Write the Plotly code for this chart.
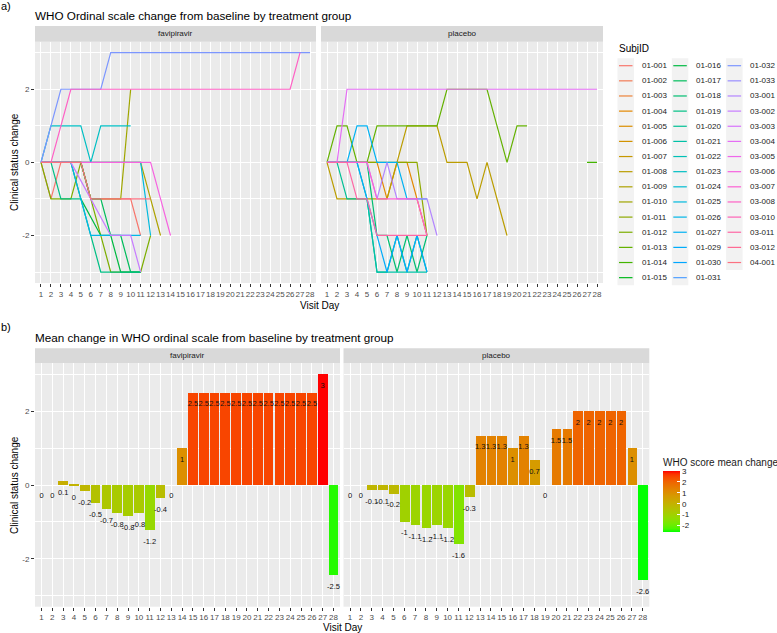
import math
import plotly.graph_objects as go

W, H = 777, 633
days = list(range(1, 29))
day_labels = [str(d) for d in days]

subject_ids = ["01-001", "01-002", "01-003", "01-004", "01-005", "01-006", "01-007", "01-008",
               "01-009", "01-010", "01-011", "01-012", "01-013", "01-014", "01-015", "01-016",
               "01-017", "01-018", "01-019", "01-020", "01-021", "01-022", "01-023", "01-024",
               "01-025", "01-026", "01-027", "01-029", "01-030", "01-031", "01-032", "01-033",
               "03-001", "03-002", "03-003", "03-004", "03-005", "03-006", "03-007", "03-008",
               "03-010", "03-011", "03-012", "04-001"]

# change from baseline per visit day (day 1, 2, 3, ...); None = no visit
fav_traj = {
    "01-032": [0, 1, 2, 2, 2, 2, 2, 3, 3, 3, 3, 3, 3, 3, 3, 3, 3, 3, 3, 3, 3, 3, 3, 3, 3, 3, 3, 3],
    "03-008": [0, 0, 1, 2, 2, 2, 2, 2, 2, 2, 2, 2, 2, 2, 2, 2, 2, 2, 2, 2, 2, 2, 2, 2, 2, 2, 3],
    "01-023": [0, 1, 1, 1, 1, 0, 1, 1, 1, 1],
    "03-006": [0, 0, 0, 0, 0, 0, 0, 0, 0, 0, 0, 0, -1, -2],
    "01-012": [0, -1, -1, -1, 0, -1, -2, -3, -3, -3, -3, -2],
    "01-019": [0, 0, -1, -1, -1, -2, -3, -3, -3, -3, -3],
    "01-001": [0, -1, 0, 0, 0, -1, -1, -1, -1, -1, -2],
    "03-002": [0, 0, 0, 0, None, -1, None, -2, -2, -2, -3],
    "01-026": [0, 0, 0, 0, -1, -2, -2, -2, -2, -2, -2],
    "01-025": [0, 0, 0, 0, 0, 0, 0, 0, 0, 0, 0, -2],
    "01-016": [0, 0, 0, 0, -1, None, -2, -2, -3, -3, -3],
    "01-017": [0, 0, 0, 0, 0, -1, -1, -2, -2, -3, -3],
    "01-010": [0, 0, 0, 0, 0, -1, -1, -1, -1, 2],
    "01-009": [0, 0, 0, 0, 0, 0, 0, 0, 0, 0, 0, -1, -2],
    "04-001": [0, 0, 0, 0, 0, -1, -1, -1, -1, -1, -1, -1],
}
pla_traj = {
    "03-004": [0, 0, 2, 2, 2, 2, 2, 2, 2, 2, 2, 2, 2, 2, 2, 2, 2, 2, 2, 2, 2, 2, 2, 2, 2, 2, 2, 2],
    "01-008": [0, -1, -1, -1, -1, -1, -1, 0, 1, 1, 1, 1, 0, 0, 0, -1, 0, None, -2],
    "01-013": [0, 1, 1, 0, 0, 1, 1, 1, 1, 1, 1, 1, 2, 2, 2, 2, 2, 1, 0, 1, 1],
    "01-014": [None] * 26 + [0, 0],
    "01-021": [0, 0, 0, 0, -1, -3, -3, -3, -3, -3, -3],
    "01-020": [0, 0, -1, -1, -1, -3, -3, -2, -3, -2, -3],
    "03-011": [0, 0, 0, -1, -1, -2, -2, -2, -2, -2, -2],
    "01-027": [0, 0, 0, 1, 1, 0, 0, 0, -1, -1, -1],
    "01-029": [0, 0, 0, 0, -1, -2, -3, -2, -3, -2, -3],
    "01-018": [0, 0, 0, 0, 0, -2, -2, -3, -2, -3, -2],
    "03-001": [0, 0, 0, 0, 0, -1, 0, -1, -1, -1, -1, -2],
    "01-004": [0, 0, 0, 0, 0, 0, -1, 0, 0, -1, -2],
    "01-011": [0, 0, 0, 0, 0, 0, 0, 0, 0, 0, -2],
    "03-007": [0, 0, 0, 0, 0, -1, -1, -1, -1, -1, -2],
}

# mean change per visit day (days 1..28)
fav_mean = [0, 0, 0.1, -0.04, -0.17, -0.49, -0.67, -0.76, -0.85, -0.76, -1.23, -0.36, 0, 1.0,
            2.5, 2.5, 2.5, 2.5, 2.5, 2.5, 2.5, 2.5, 2.5, 2.5, 2.5, 2.5, 3.0, -2.45]
pla_mean = [0, 0, -0.14, -0.14, -0.24, -1.0, -1.1, -1.17, -1.1, -1.17, -1.62, -0.33, 1.33, 1.33,
            1.33, 1.0, 1.33, 0.67, 0, 1.5, 1.5, 2.0, 2.0, 2.0, 2.0, 2.0, 1.0, -2.59]
cbar_ticks = [-2, -1, 0, 1, 2, 3]

FONT = "Liberation Sans"


def px(x):
    return x / W


def py(y):
    return 1 - y / H


def hcl_hex(h, c=100.0, l=65.0):
    hr = math.radians(h)
    u, v = c * math.cos(hr), c * math.sin(hr)
    Xn, Yn, Zn = 95.047, 100.0, 108.883
    Y = Yn * ((l + 16) / 116) ** 3 if l > 8 else Yn * l / 903.3
    den = Xn + 15 * Yn + 3 * Zn
    un, vn = 4 * Xn / den, 9 * Yn / den
    up, vp = u / (13 * l) + un, v / (13 * l) + vn
    X = 9.0 * Y * up / (4 * vp)
    Z = -X / 3 - 5 * Y + 3 * Y / vp
    X, Y, Z = X / 100, Y / 100, Z / 100
    rl = 3.240479 * X - 1.537150 * Y - 0.498535 * Z
    gl = -0.969256 * X + 1.875992 * Y + 0.041556 * Z
    bl = 0.055648 * X - 0.204043 * Y + 1.057311 * Z

    def g(t):
        t = 12.92 * t if t <= 0.0031308 else 1.055 * t ** (1 / 2.4) - 0.055
        return max(0, min(255, round(t * 255)))
    return "#%02X%02X%02X" % (g(rl), g(gl), g(bl))


n_sub = len(subject_ids)
sub_color = {sid: hcl_hex(15 + i * 360 / n_sub) for i, sid in enumerate(subject_ids)}


# Lab ramp green -> red (like ggplot scale_fill_gradient)
def srgb_to_lab(rgb):
    def lin(c):
        c = c / 255
        return c / 12.92 if c <= 0.04045 else ((c + 0.055) / 1.055) ** 2.4
    r, g, b = [lin(c) for c in rgb]
    X = 0.4124 * r + 0.3576 * g + 0.1805 * b
    Y = 0.2126 * r + 0.7152 * g + 0.0722 * b
    Z = 0.0193 * r + 0.1192 * g + 0.9505 * b
    xn, yn, zn = 0.95047, 1.0, 1.08883

    def f(t):
        return t ** (1 / 3) if t > 216 / 24389 else (24389 / 27 * t + 16) / 116
    fx, fy, fz = f(X / xn), f(Y / yn), f(Z / zn)
    return 116 * fy - 16, 500 * (fx - fy), 200 * (fy - fz)


def lab_to_hex(L, a, b):
    fy = (L + 16) / 116
    fx = fy + a / 500
    fz = fy - b / 200

    def finv(t):
        return t ** 3 if t ** 3 > 216 / 24389 else (116 * t - 16) / (24389 / 27)
    X, Y, Z = 0.95047 * finv(fx), finv(fy), 1.08883 * finv(fz)
    rl = 3.2406 * X - 1.5372 * Y - 0.4986 * Z
    gl = -0.9689 * X + 1.8758 * Y + 0.0415 * Z
    bl = 0.0557 * X - 0.2040 * Y + 1.0570 * Z

    def g(t):
        t = max(0.0, t)
        t = 12.92 * t if t <= 0.0031308 else 1.055 * t ** (1 / 2.4) - 0.055
        return max(0, min(255, round(t * 255)))
    return "#%02X%02X%02X" % (g(rl), g(gl), g(bl))


lab_lo = srgb_to_lab((0, 255, 0))
lab_hi = srgb_to_lab((255, 0, 0))
nstop = 20
colorscale = []
for k in range(nstop + 1):
    t = k / nstop
    colorscale.append([t, lab_to_hex(*[lo + (hi - lo) * t for lo, hi in zip(lab_lo, lab_hi)])])
cmin = min(fav_mean + pla_mean)
cmax = max(fav_mean + pla_mean)

fig = go.Figure()

# ---------- panel a: lines ----------
for axn, traj in (("", fav_traj), ("2", pla_traj)):
    for sid in subject_ids:
        if sid not in traj:
            continue
        vals = traj[sid]
        fig.add_trace(go.Scatter(
            x=days[:len(vals)], y=vals, mode="lines", connectgaps=True,
            line=dict(color=sub_color[sid], width=1.2),
            xaxis="x" + axn, yaxis="y" + axn, showlegend=False, name=sid,
            hoverinfo="skip"))


def fmt(v):
    r = round(v, 1)
    return "0" if r == 0 else f"{r:g}"


# ---------- panel b: bars ----------
for axn, vals in (("3", fav_mean), ("4", pla_mean)):
    fig.add_trace(go.Bar(
        x=days, y=vals, width=0.9,
        marker=dict(color=vals, coloraxis="coloraxis", line=dict(width=0)),
        xaxis="x" + axn, yaxis="y" + axn, showlegend=False, hoverinfo="skip"))
    fig.add_trace(go.Scatter(
        x=days, y=vals, mode="markers+text", text=[fmt(v) for v in vals],
        textposition="bottom center", textfont=dict(size=7.5, color="#111111", family=FONT),
        marker=dict(size=11, color="rgba(0,0,0,0)"),
        cliponaxis=False, xaxis="x" + axn, yaxis="y" + axn, showlegend=False, hoverinfo="skip"))

GRID = "#FFFFFF"
TICKC = "#4D4D4D"


def xax(x0, x1, anchor):
    return dict(domain=[px(x0), px(x1)], range=[0.4, 28.6], anchor=anchor,
                tickvals=days, ticktext=day_labels, tickangle=0,
                tickfont=dict(size=8, color=TICKC, family=FONT),
                ticks="outside", ticklen=3, tickwidth=0.8, tickcolor="#333333",
                showgrid=True, gridcolor=GRID, gridwidth=1, zeroline=False, showline=False,
                automargin=False, fixedrange=True)


def yax(y0, y1, anchor, labels=True):
    return dict(domain=[py(y1), py(y0)], range=[-3.3, 3.3], anchor=anchor,
                tickvals=[-2, 0, 2], ticktext=["-2", "0", "2"] if labels else ["", "", ""],
                tickfont=dict(size=8, color=TICKC, family=FONT),
                ticks="outside" if labels else "", ticklen=3, tickwidth=0.8, tickcolor="#333333",
                showgrid=True, gridcolor=GRID, gridwidth=1, zeroline=False, showline=False,
                minor=dict(tickvals=[-3, -1, 1, 3], showgrid=True, gridcolor=GRID, gridwidth=0.5),
                automargin=False, fixedrange=True)


A_TOP, A_BOT = 41.7, 283.0
B_TOP, B_BOT = 363.3, 606.7
fig.update_layout(
    xaxis=xax(35, 316, "y"), yaxis=yax(A_TOP, A_BOT, "x"),
    xaxis2=xax(321, 603, "y2"), yaxis2=yax(A_TOP, A_BOT, "x2", labels=False),
    xaxis3=xax(35, 340, "y3"), yaxis3=yax(B_TOP, B_BOT, "x3"),
    xaxis4=xax(343.5, 649.3, "y4"), yaxis4=yax(B_TOP, B_BOT, "x4", labels=False),
)

fig.update_layout(
    coloraxis=dict(
        colorscale=colorscale, cmin=cmin, cmax=cmax,
        colorbar=dict(
            x=px(663), xanchor="left", y=py(455), yanchor="top",
            lenmode="pixels", len=77, thicknessmode="pixels", thickness=17,
            outlinewidth=0, xpad=0, ypad=0,
            title=dict(text="WHO score mean change", side="top",
                       font=dict(size=10, color="#1A1A1A", family=FONT)),
            tickvals=cbar_ticks, ticktext=[str(t) for t in cbar_ticks],
            ticks="inside", ticklen=3, tickcolor="white",
            tickfont=dict(size=8, color="#1A1A1A", family=FONT))))

shapes = []
annotations = []

# facet strips
for (x0, x1, y0, y1, label) in [(35, 316, 26, A_TOP, "favipiravir"), (321, 603, 26, A_TOP, "placebo"),
                                (35, 340, 348.3, B_TOP, "favipiravir"), (343.5, 649.3, 348.3, B_TOP, "placebo")]:
    shapes.append(dict(type="rect", xref="paper", yref="paper", x0=px(x0), x1=px(x1),
                       y0=py(y1), y1=py(y0), fillcolor="#D9D9D9", line=dict(width=0), layer="below"))
    annotations.append(dict(text=label, xref="paper", yref="paper", x=px((x0 + x1) / 2),
                            y=py((y0 + y1) / 2), showarrow=False, xanchor="center", yanchor="middle",
                            font=dict(size=8, color="#1A1A1A", family=FONT)))


def text_ann(text, x, y, size, xanchor="left", angle=0, color="#000000"):
    annotations.append(dict(text=text, xref="paper", yref="paper", x=px(x), y=py(y), showarrow=False,
                            xanchor=xanchor, yanchor="middle", textangle=angle, borderpad=0,
                            font=dict(size=size, color=color, family=FONT)))


text_ann("a)", 0, 6, 11, color="#000000")
text_ann("b)", 0, 327, 11, color="#000000")
text_ann("WHO Ordinal scale change from baseline by treatment group", 34, 15.5, 11.7)
text_ann("Mean change in WHO ordinal scale from baseline by treatment group", 34, 337.5, 11.7)
text_ann("Visit Day", 319, 305, 10, xanchor="center")
text_ann("Visit Day", 342, 627, 10, xanchor="center")
text_ann("Clinical status change", 14, 162, 10, xanchor="center", angle=-90)
text_ann("Clinical status change", 14, 485, 10, xanchor="center", angle=-90)

# subject legend (3 columns)
text_ann("SubjID", 617.5, 48.3, 10)
rows_per_col = 15
row_h = 15.14
col_w = 54.3
row0 = 65.7
ncols = math.ceil(n_sub / rows_per_col)
for c in range(ncols):
    n_in = min(rows_per_col, n_sub - c * rows_per_col)
    shapes.append(dict(type="rect", xref="paper", yref="paper",
                       x0=px(617.5 + c * col_w), x1=px(634 + c * col_w),
                       y0=py(row0 - row_h / 2 + n_in * row_h), y1=py(row0 - row_h / 2),
                       fillcolor="#F2F2F2", line=dict(width=0), layer="below"))
for i, sid in enumerate(subject_ids):
    c, r = divmod(i, rows_per_col)
    yy = row0 + r * row_h
    shapes.append(dict(type="line", xref="paper", yref="paper",
                       x0=px(619 + c * col_w), x1=px(632.5 + c * col_w), y0=py(yy), y1=py(yy),
                       line=dict(color=sub_color[sid], width=1.2)))
    text_ann(sid, 640.5 + c * col_w, yy, 8, color="#1A1A1A")

fig.update_layout(
    width=W, height=H, margin=dict(l=0, r=0, t=0, b=0, autoexpand=False),
    paper_bgcolor="white", plot_bgcolor="#EBEBEB",
    font=dict(family=FONT), bargap=0,
    shapes=shapes, annotations=annotations, showlegend=False,
)

fig.write_html("out.html", config={"displayModeBar": False},
               post_script="document.body.style.margin='0px';document.body.style.overflow='hidden';")
